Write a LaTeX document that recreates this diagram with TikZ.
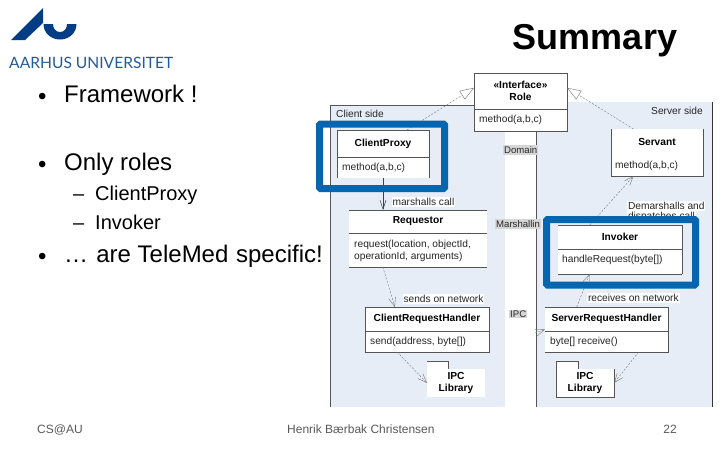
\documentclass[tikz,border=0pt]{standalone}
\usepackage{fontspec}
\setmainfont{Liberation Sans}
\newfontfamily\logofont{Lato}
\usetikzlibrary{arrows.meta}
\definecolor{panelblue}{HTML}{E7EDF7}
\definecolor{framblue}{HTML}{0565AE}
\definecolor{logoblue}{HTML}{003D85}
\definecolor{umlgray}{HTML}{555555}
\tikzset{
  panel/.style={fill=panelblue,draw=none},
  panelline/.style={draw=umlgray,line width=.6pt},
  umlbox/.style={draw=umlgray,line width=.6pt,fill=white,inner sep=0pt,outer sep=0pt},
  whitebox/.style={draw=none,fill=white,inner sep=0pt,outer sep=0pt,anchor=north west},
  divider/.style={draw=umlgray,line width=.6pt},
  umltext/.style={font=\fontsize{10.2}{12}\selectfont,text=black!85,inner sep=0pt,anchor=west,align=left},
  umltitle/.style={font=\fontsize{10.2}{12}\selectfont\bfseries,text=black,inner sep=0pt,align=center},
  notelabel/.style={umltext,fill=white,inner sep=.8pt},
  domainlabel/.style={font=\fontsize{9.6}{11}\selectfont,text=black!85,fill=black!16,inner sep=1pt,anchor=west},
  dashconn/.style={draw=black!55,line width=.4pt,dash pattern=on 2pt off 1.6pt},
  realize/.style={dashconn,-{Triangle[open,length=14pt,width=10pt,fill=white]}},
  uses/.style={dashconn,-{Straight Barb[length=9pt,width=7pt]}},
  solidarrow/.style={draw=black!75,line width=.5pt,-{Straight Barb[length=9pt,width=6pt]}},
  highlight/.style={draw=framblue,line width=7pt,rounded corners=1pt},
  bulletmark/.style={font=\fontsize{24}{28}\selectfont,inner sep=0pt,anchor=base west,text=black},
  bullettext/.style={font=\fontsize{24}{28}\selectfont,inner sep=0pt,anchor=base west,text=black},
  subtext/.style={font=\fontsize{20}{24}\selectfont,inner sep=0pt,anchor=base west,text=black},
  footer/.style={font=\fontsize{12}{14}\selectfont,inner sep=0pt,text=black!65}
}
\begin{document}
\begin{tikzpicture}[x=1pt,y=-1pt]
\useasboundingbox (0,0) rectangle (720,450);
\fill[white] (0,0) rectangle (720,450);
% logo
\fill[logoblue] (11,40) -- (43,8) -- (43,23) -- (25,40) -- cycle;
\fill[logoblue] (43.5,24) .. controls (43.5,33) and (51,39.5) .. (60,39.5) .. controls (69,39.5) and (76.5,33) .. (76.5,24) -- (67,24) .. controls (67,29) and (64,32) .. (60,32) .. controls (56,32) and (53,29) .. (53,24) -- cycle;
\node[inner sep=0pt,anchor=west,text=logoblue!85,font=\logofont\fontsize{15.6}{18}\selectfont] (logotext) at (9,62.5) {AARHUS UNIVERSITET};
% title
\node[inner sep=0pt,font=\fontsize{36}{40}\selectfont\bfseries] (title) at (595,41) {Summary};
% bullets
\node[bulletmark] (b1) at (38,104) {•};
\node[bullettext] (t1) at (64,102) {Framework !};
\node[bulletmark] (b2) at (38,172) {•};
\node[bullettext] (t2) at (64,170) {Only roles};
\node[subtext] (d1) at (73,200) {–};
\node[subtext] (s1) at (95,200) {ClientProxy};
\node[subtext] (d2) at (73,229) {–};
\node[subtext] (s2) at (95,229) {Invoker};
\node[bulletmark] (b3) at (38,264) {•};
\node[bullettext] (t3) at (64,262) {…\hspace{1.5pt} are TeleMed\hspace{1pt} specific!};
% footer
\node[footer,anchor=west] (f1) at (37,429.5) {CS@AU};
\node[footer,anchor=west] (f2) at (287,429.5) {Henrik Bærbak Christensen};
\node[footer,anchor=east] (f3) at (677,429.5) {22};
% panels
\fill[panel] (330,105) rectangle (505,407);
\fill[panel] (536,102) rectangle (712,407);
\draw[panelline] (330,407) -- (330,105) -- (480,105);
\draw[panelline] (536,131) -- (536,407);
\draw[draw=black!80,line width=.7pt] (712,102) -- (712,407);
\node[umltext] (clientside) at (336,113.5) {Client side};
\node[umltext,anchor=east] (serverside) at (703,110.5) {Server side};
% boxes
\node[umlbox,anchor=north west,minimum width=93pt,minimum height=58pt] (role) at (474,73) {};
\draw[divider] (474,109) -- (567,109);
\node[umltitle] (roletitle) at (520.5,91) {«Interface»\\Role};
\node[umltext] (rolem) at (479,120) {method(a,b,c)};

\node[whitebox,minimum width=92pt,minimum height=48pt] (clientproxy) at (337,130) {};
\draw[divider] (337,130) -- (429,130) (337,130) -- (337,178) (429,130) -- (429,178) (337,157) -- (429,157);
\node[umltitle] (cptitle) at (383,143.5) {ClientProxy};
\node[umltext] (cpm) at (342,167.5) {method(a,b,c)};

\node[whitebox,minimum width=92pt,minimum height=47pt] (servant) at (611,129) {};
\draw[divider] (611,129) -- (611,176) -- (703,176) -- (703,129);
\node[umltitle] (stitle) at (657,141.5) {Servant};
\node[umltext] (sm) at (615,165.5) {method(a,b,c)};

\node[whitebox,minimum width=138pt,minimum height=57pt] (requestor) at (349,210) {};
\draw[divider] (349,210) -- (487,210) (349,233) -- (487,233) (349,267) -- (487,267);
\node[umltitle] (rtitle) at (418,221.5) {Requestor};
\node[umltext] (rm) at (354,250.5) {request(location, objectId,\\operationId, arguments)};

\node[whitebox,minimum width=124pt,minimum height=49pt] (invoker) at (558,225) {};
\draw[divider] (558,225) -- (682,225) (558,249) -- (682,249) (558,274) -- (682,274) (682,225) -- (682,274);
\node[umltitle] (ititle) at (620,237) {Invoker};
\node[umltext] (im) at (562,260) {handleRequest(byte[])};

\node[umlbox,anchor=north west,minimum width=124pt,minimum height=45pt] (crh) at (365,307) {};
\draw[divider] (365,331) -- (489,331);
\node[umltitle] (crhtitle) at (427,319) {ClientRequestHandler};
\node[umltext] (crhm) at (370,342) {send(address, byte[])};

\node[whitebox,minimum width=123pt,minimum height=45pt] (srh) at (545,307) {};
\draw[divider] (545,307) -- (668,307) -- (668,352) -- (545,352) (545,331) -- (668,331);
\node[umltitle] (srhtitle) at (606.5,319) {ServerRequestHandler};
\node[umltext] (srhm) at (550,342) {byte[] receive()};

% packages
\fill[white] (427,361) rectangle (448,369);
\draw[divider] (427,361) -- (448,361) -- (448,369);
\node[whitebox,minimum width=58pt,minimum height=28pt] (ipca) at (427,369) {};
\node[umltitle] (ipcatext) at (456,383) {IPC\\Library};

\fill[white] (556,361) rectangle (578,369);
\draw[divider] (556,397) -- (556,361) -- (578,361) -- (578,369);
\node[whitebox,minimum width=58pt,minimum height=28pt] (ipcb) at (556,369) {};
\draw[divider] (556,369) -- (556,397) -- (614,397) -- (614,369);
\node[umltitle] (ipcbtext) at (585,383) {IPC\\Library};

% connectors
\coordinate (ipcstart) at (535,333);
\draw[realize] (clientproxy.45) -- (role.163);
\draw[realize] (servant.135) -- (role.17);
\draw[uses] (invoker.141) -- (servant.225);
\draw[solidarrow] (clientproxy.south) -- (requestor.north -| clientproxy.south);
\draw[uses] (requestor.219) -- (crh.145);
\draw[uses] (crh.217) -- (ipca.west);
\draw[uses] (srh.-35) -- (ipcb.east);
\draw[uses] (srh.143) -- (invoker.219);
\draw[uses] (ipcstart) -- (srh.west);

% labels
\node[notelabel] (l1) at (391.5,202) {marshalls call};
\node[notelabel] (l2) at (402.5,299) {sends on network};
\node[notelabel] (l3) at (587,298) {receives on network};
\node[notelabel] (l4) at (627,206) {Demarshalls and};
\node[notelabel] (l5) at (627,217) {dispatches call};
\node[domainlabel] (dom) at (503,150) {Domain};
\node[domainlabel] (mar) at (495,224) {Marshallin};
\node[domainlabel] (ipc) at (509,314) {IPC};

% highlights
\draw[highlight] (319.5,124) rectangle (444.5,188.5);
\draw[highlight] (546.5,219.5) rectangle (695.5,285);
\end{tikzpicture}
\end{document}
